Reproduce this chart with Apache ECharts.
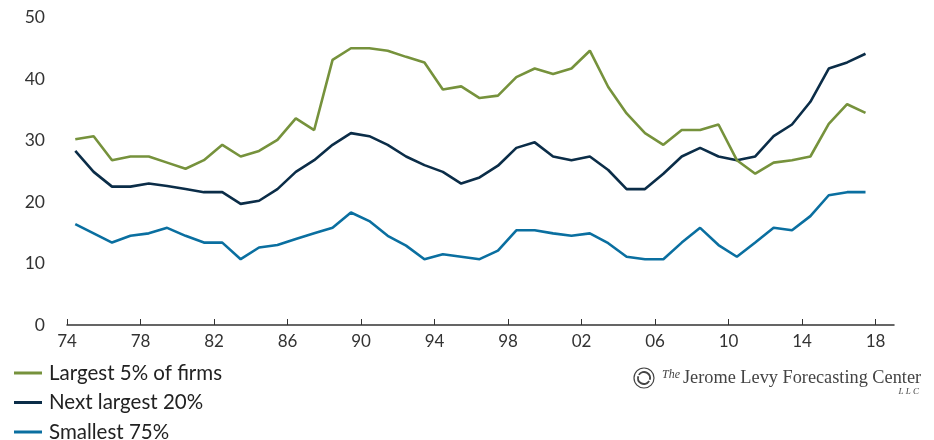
<!DOCTYPE html>
<html>
<head>
<meta charset="utf-8">
<script src="https://cdn.jsdelivr.net/npm/echarts@6/dist/echarts.min.js"></script>
<style>html,body{margin:0;padding:0;background:#fff}#c{width:934px;height:440px}</style>
</head>
<body>
<div id="c"></div>
<script>
var years = [1974,1975,1976,1977,1978,1979,1980,1981,1982,1983,1984,1985,1986,1987,1988,1989,1990,1991,1992,1993,1994,1995,1996,1997,1998,1999,2000,2001,2002,2003,2004,2005,2006,2007,2008,2009,2010,2011,2012,2013,2014,2015,2016,2017];
var largest5 = [30.2,30.7,26.8,27.4,27.4,26.4,25.4,26.8,29.3,27.4,28.3,30.1,33.6,31.7,43.1,45.0,45.0,44.6,43.6,42.7,38.3,38.8,36.9,37.3,40.3,41.7,40.8,41.7,44.6,38.7,34.4,31.2,29.3,31.7,31.7,32.6,26.8,24.6,26.4,26.8,27.4,32.7,35.9,34.5];
var next20 = [28.3,24.9,22.5,22.5,23.0,22.6,22.1,21.6,21.6,19.7,20.2,22.1,24.9,26.8,29.3,31.2,30.7,29.3,27.4,26.0,24.9,23.0,24.0,25.9,28.8,29.7,27.4,26.8,27.4,25.2,22.1,22.1,24.6,27.4,28.8,27.4,26.8,27.4,30.7,32.6,36.3,41.7,42.7,44.1];
var smallest75 = [16.4,14.9,13.4,14.5,14.9,15.8,14.5,13.4,13.4,10.7,12.6,13.0,14.0,14.9,15.8,18.3,16.9,14.5,12.9,10.7,11.5,11.1,10.7,12.1,15.4,15.4,14.9,14.5,14.9,13.3,11.1,10.7,10.7,13.4,15.8,13.0,11.1,13.4,15.8,15.4,17.7,21.1,21.6,21.6];
var xTicks = [1974,1978,1982,1986,1990,1994,1998,2002,2006,2010,2014,2018];
var seriesNames = ['Largest 5% of firms','Next largest 20%','Smallest 75%'];
var colors = ['#76923c','#0b2d48','#0a6fa0'];

function pts(vals){ return vals.map(function(v,i){ return [years[i]+0.45, v]; }); }

var chart = echarts.init(document.getElementById('c'), null, {renderer:'canvas'});
var font = 'Lato, "Open Sans", sans-serif';
chart.setOption({
  animation:false,
  backgroundColor:'#fff',
  grid:{left:67,right:40,top:17.5,bottom:115,containLabel:false},
  xAxis:{
    type:'value', min:1974, max:2019, interval:4,
    splitLine:{show:false},
    axisLine:{show:true,lineStyle:{color:'#333',width:1.5}},
    axisTick:{show:true,inside:true,length:6,customValues:xTicks,lineStyle:{color:'#333',width:1}},
    axisLabel:{customValues:xTicks,color:'#333',fontFamily:font,fontSize:17,margin:8,
      formatter:function(v){ return String(v).slice(2); }}
  },
  yAxis:{
    type:'value', min:0, max:50, interval:10,
    splitLine:{show:false},
    axisLine:{show:false}, axisTick:{show:false},
    axisLabel:{color:'#333',fontFamily:font,fontSize:17.5,margin:22}
  },
  legend:{show:false},
  series:[largest5,next20,smallest75].map(function(d,i){
    return {name:seriesNames[i],type:'line',data:pts(d),showSymbol:false,symbol:'none',
      lineStyle:{color:colors[i],width:2.6},itemStyle:{color:colors[i]},z:3-i};
  }),
  graphic:[].concat(
    seriesNames.map(function(n,i){
      var y = 373 + i*29.5;
      return {type:'group',children:[
        {type:'line',shape:{x1:14,y1:y,x2:42,y2:y},style:{stroke:colors[i],lineWidth:3}},
        {type:'text',x:49,y:y,style:{text:n,fontFamily:font,fontSize:20.5,fill:'#222',textVerticalAlign:'middle'}}
      ]};
    }),
    [
      {type:'circle',shape:{cx:644,cy:378,r:10},style:{fill:'none',stroke:'#444',lineWidth:1.2}},
      {type:'arc',shape:{cx:644,cy:378,r:6,startAngle:-2.6,endAngle:0.3},style:{fill:'none',stroke:'#444',lineWidth:1.8}},
      {type:'arc',shape:{cx:644,cy:378,r:6,startAngle:0.54,endAngle:3.44},style:{fill:'none',stroke:'#444',lineWidth:1.8}},
      {type:'text',x:662,y:375,style:{text:'The',fontFamily:'"Liberation Serif", serif',fontStyle:'italic',fontSize:12,fill:'#444',textVerticalAlign:'middle'}},
      {type:'text',x:683,y:378,style:{text:'Jerome Levy Forecasting Center',fontFamily:'"Liberation Serif", serif',fontSize:18.3,fill:'#444',textVerticalAlign:'middle'}},
      {type:'text',x:919,y:392,style:{text:'L L C',fontFamily:'"Liberation Serif", serif',fontStyle:'italic',fontSize:9,fill:'#444',textAlign:'right',textVerticalAlign:'middle'}}
    ]
  )
});
</script>
</body>
</html>
